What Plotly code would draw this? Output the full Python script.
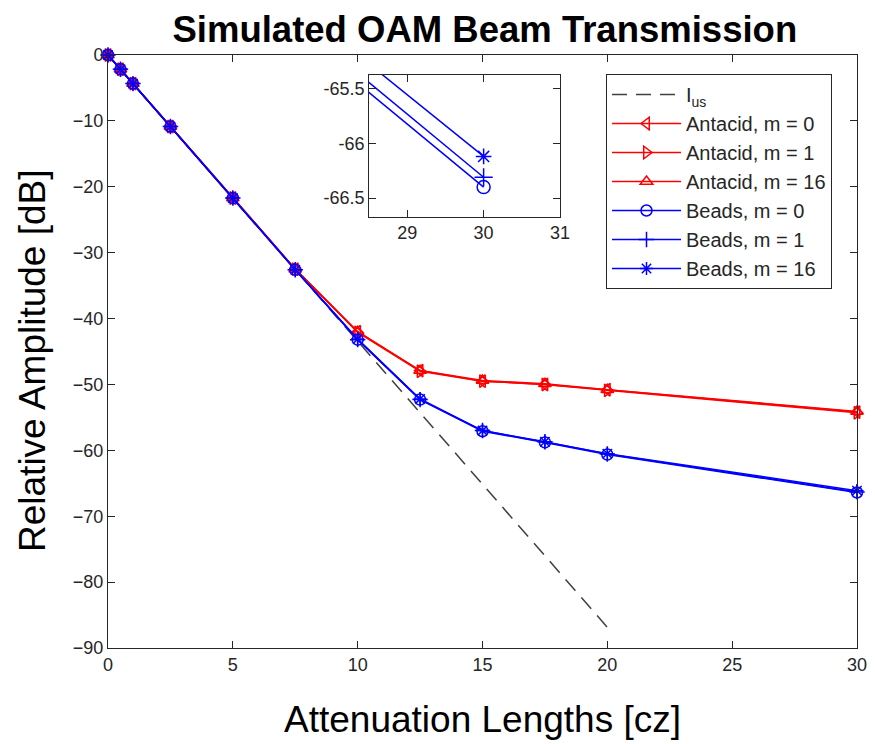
import plotly.graph_objects as go

# ---------------- data ----------------
x_pts = [0, 0.5, 1, 2.5, 5, 7.5, 10, 12.5, 15, 17.5, 20, 30]
ideal_x = [0, 0.5, 1, 2.5, 5, 7.5, 10, 12.5, 15, 17.5, 20]
ideal_y = [0, -2.17, -4.34, -10.86, -21.71, -32.57, -43.43, -54.29, -65.14, -76.0, -86.86]

antacid_m0 = [0, -2.17, -4.34, -10.86, -21.71, -32.5, -42.0, -47.9, -49.5, -50.0, -50.8, -54.2]
antacid_m1 = [0, -2.17, -4.34, -10.86, -21.71, -32.5, -42.1, -48.0, -49.5, -50.0, -50.9, -54.3]
antacid_m16 = [0, -2.17, -4.34, -10.86, -21.71, -32.5, -42.0, -47.9, -49.4, -49.9, -50.8, -54.1]

beads_m0 = [0, -2.17, -4.34, -10.86, -21.71, -32.6, -43.2, -52.3, -57.1, -58.8, -60.65, -66.40]
beads_m1 = [0, -2.17, -4.34, -10.86, -21.71, -32.6, -43.2, -52.3, -57.0, -58.7, -60.55, -66.31]
beads_m16 = [0, -2.17, -4.34, -10.86, -21.71, -32.6, -43.1, -52.2, -57.0, -58.7, -60.50, -66.12]

x_ticks = [0, 5, 10, 15, 20, 25, 30]
y_ticks = [0, -10, -20, -30, -40, -50, -60, -70, -80, -90]
inset_x_ticks = [29, 30, 31]
inset_y_ticks = [-65.5, -66, -66.5]

series = [
    ("Antacid, m = 0", antacid_m0, "#FF0000", "triangle-left-open"),
    ("Antacid, m = 1", antacid_m1, "#FF0000", "triangle-right-open"),
    ("Antacid, m = 16", antacid_m16, "#FF0000", "triangle-up-open"),
    ("Beads, m = 0", beads_m0, "#0000FF", "circle-open"),
    ("Beads, m = 1", beads_m1, "#0000FF", "cross-thin-open"),
    ("Beads, m = 16", beads_m16, "#0000FF", "asterisk-open"),
]

FONT = "Arial, Liberation Sans, sans-serif"
AX = "#262626"

fig = go.Figure()

fig.add_trace(go.Scatter(
    x=ideal_x, y=ideal_y, mode="lines", name="I<sub>us</sub>",
    line=dict(color="#404040", width=1.5, dash="15px,9px"),
    legendgroup="g0",
))

for i, (name, ys, col, sym) in enumerate(series):
    fig.add_trace(go.Scatter(
        x=x_pts, y=ys, mode="lines+markers", name=name,
        line=dict(color=col, width=1.5),
        marker=dict(symbol=sym, size=11, color=col, line=dict(color=col, width=1.5)),
        cliponaxis=False, legendgroup="g%d" % (i + 1),
    ))

# inset (zoom on x = 30 end of the bead curves)
for name, ys, col, sym in series[3:]:
    fig.add_trace(go.Scatter(
        x=x_pts, y=ys, mode="lines+markers", showlegend=False,
        line=dict(color=col, width=1.5),
        marker=dict(symbol=sym, size=13, color=col, line=dict(color=col, width=1.5)),
        xaxis="x2", yaxis="y2", cliponaxis=True,
    ))

axis_common = dict(
    showline=True, linecolor=AX, linewidth=1, mirror="ticks",
    ticks="inside", ticklen=7, tickcolor=AX, showgrid=False, zeroline=False,
    tickfont=dict(family=FONT, size=18, color=AX), automargin=False,
)

# plot area in figure pixels: left 100, right 849, top 47, bottom 640
fig.update_layout(
    width=867, height=736,
    margin=dict(l=100, r=18, t=47, b=96),
    paper_bgcolor="white", plot_bgcolor="white",
    title=dict(text="<b>Simulated OAM Beam Transmission</b>", x=0.55, xanchor="center",
               y=1.0 - 5 / 736, yanchor="top", pad=dict(t=3),
               font=dict(family=FONT, size=36.5, color="black")),
    xaxis=dict(range=[0, 30], tickvals=x_ticks,
               title=dict(text="Attenuation Lengths [cz]", font=dict(family=FONT, size=37, color="black"), standoff=32),
               **axis_common),
    yaxis=dict(range=[-90, 0], tickvals=y_ticks, **axis_common),
    xaxis2=dict(domain=[0.3485, 0.6035], anchor="y2", range=[28.5, 31], tickvals=inset_x_ticks,
                **axis_common),
    yaxis2=dict(domain=[0.7273, 0.9668], anchor="x2", range=[-66.67, -65.375],
                tickvals=inset_y_ticks, ticktext=["-65.5", "-66", "-66.5"],
                **axis_common),
    legend=dict(x=(598 - 100) / 749, y=(640 - 66) / 593, xanchor="left", yanchor="top",
                bordercolor="#262626", borderwidth=1, bgcolor="white",
                font=dict(family=FONT, size=20, color=AX), tracegroupgap=0,
                itemwidth=69),
    showlegend=True,
    annotations=[dict(
        text="Relative Amplitude [dB]", textangle=-90, showarrow=False,
        xref="paper", yref="paper", x=(24 - 100) / 749, y=(640 - 353) / 593,
        xanchor="center", yanchor="middle",
        font=dict(family=FONT, size=37, color="black"),
    )],
)

fig.write_html("out.html")
